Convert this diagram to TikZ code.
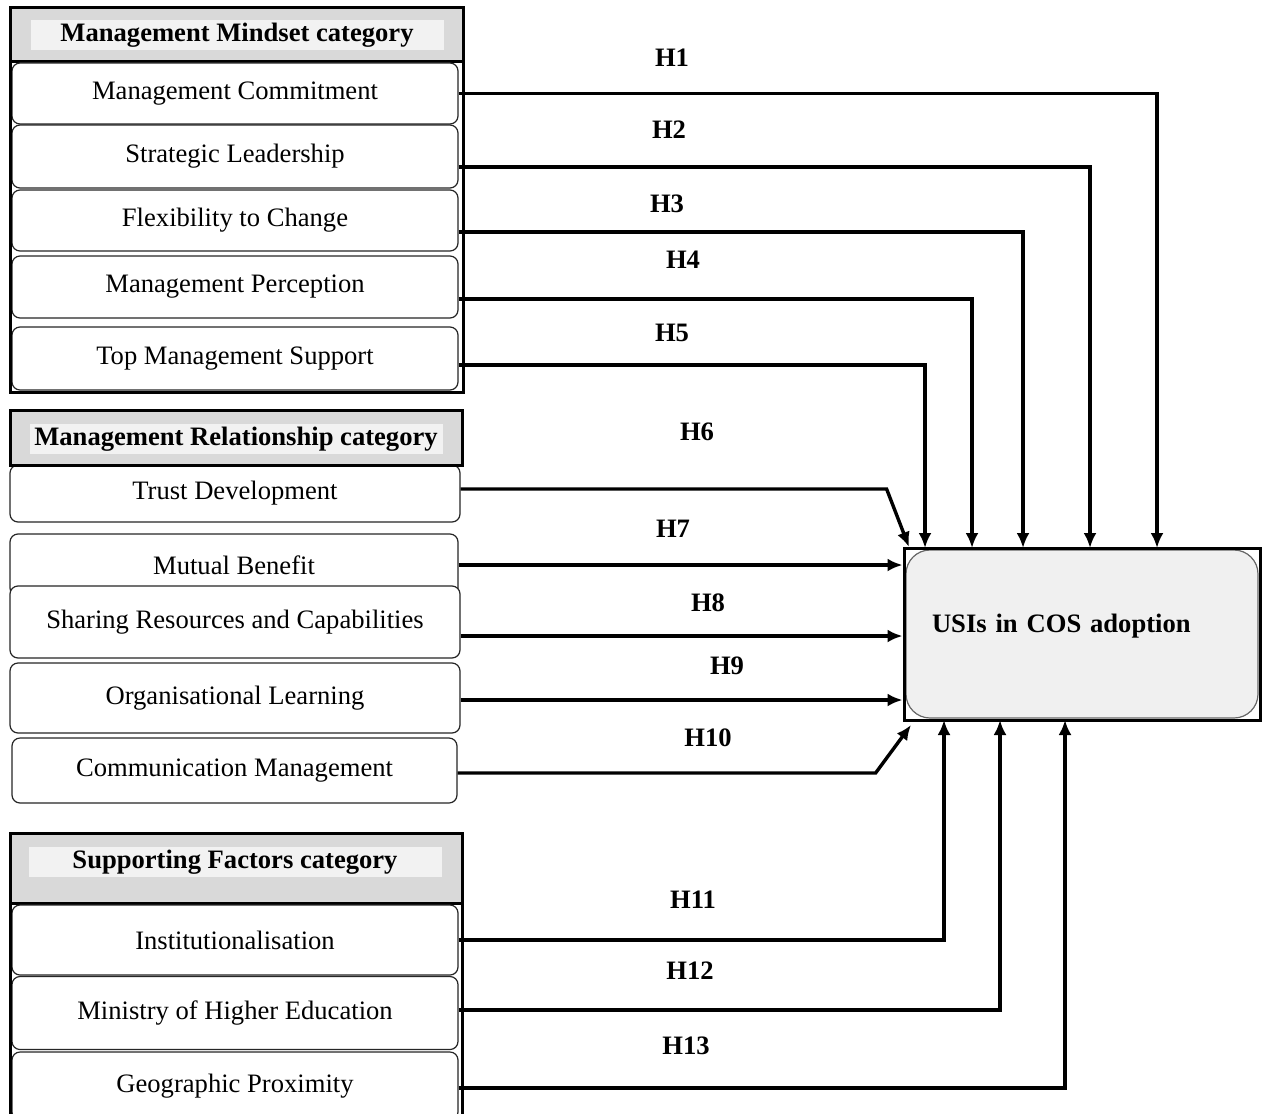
\documentclass[tikz,border=0pt]{standalone}
\usepackage{fontspec}
\setmainfont{Liberation Serif}
\usetikzlibrary{arrows.meta}
\definecolor{headgray}{HTML}{D9D9D9}
\definecolor{headlight}{HTML}{F2F2F2}
\definecolor{usifill}{HTML}{F0F0F0}
\begin{document}
\begin{tikzpicture}[x=0.5pt, y=-0.5pt, >={Latex[length=7.5pt,width=6.5pt]},
	every node/.style={font=\fontsize{13.3}{16}\selectfont},
	factor/.style={draw=black!85, line width=0.6pt, rounded corners=4pt, fill=white, minimum width=223pt, inner sep=0pt},
	cathead/.style={fill=headlight, minimum width=206.5pt, minimum height=15pt, inner sep=0pt, font=\fontsize{13.3}{16}\selectfont\bfseries},
	catframe/.style={draw, line width=1.5pt, fill=headgray},
	hlab/.style={font=\fontsize{13.3}{16}\selectfont\bfseries},
	hyp/.style={->, line width=1.7pt}]
	\useasboundingbox (0,0) rectangle (1267,1113);

	% management mindset
	\draw[catframe] (10,8) rectangle (463,62);
	\node[cathead] (mmhead) at (237,35) {Management Mindset category};
	\node[factor, minimum height=30.5pt] (mc) at (235,93.5) {Management Commitment};
	\node[factor, minimum height=31.5pt] (sl) at (235,156.5) {Strategic Leadership};
	\node[factor, minimum height=30.5pt] (fc) at (235,220.5) {Flexibility to Change};
	\node[factor, minimum height=31pt] (mp) at (235,287) {Management Perception};
	\node[factor, minimum height=31.5pt] (tms) at (235,358.5) {Top Management Support};
	\draw[line width=1.5pt] (10,8) rectangle (463,392);

	% management relationship
	\node[factor, minimum width=225pt, minimum height=28.5pt] (td) at (235,493.5) {Trust Development};
	\draw[catframe] (10,410) rectangle (462,465);
	\node[cathead] (mrhead) at (236,439) {Management Relationship category};
	\node[factor, minimum width=224pt, minimum height=31pt] (mb) at (234,565) {Mutual Benefit};
	\node[factor, minimum width=225pt, minimum height=36pt] (sr) at (235,622) {Sharing Resources and Capabilities};
	\node[factor, minimum width=225pt, minimum height=35pt] (ol) at (235,698) {Organisational Learning};
	\node[factor, minimum width=222.5pt, minimum height=32.5pt] (cm) at (234.5,770.5) {Communication Management};

	% supporting factors
	\draw[catframe] (10,833) rectangle (462,903);
	\node[cathead] (sfhead) at (235,862) {Supporting Factors category};
	\node[factor, minimum height=35pt] (inst) at (235,940) {Institutionalisation};
	\node[factor, minimum height=36.5pt] (mhe) at (235,1013) {Ministry of Higher Education};
	\node[factor, minimum height=34pt] (gp) at (235,1086) {Geographic Proximity};
	\draw[line width=1.5pt] (10,833) rectangle (462,1125);

	% outcome
	\draw[fill=usifill, draw=black!60, line width=0.6pt, rounded corners=12pt] (906,550) rectangle (1258,718);
	\node[draw, line width=1.5pt, minimum width=178pt, minimum height=86pt, text width=150pt, align=left,
		text height=9pt, text depth=11pt, font=\fontsize{13.3}{16}\selectfont\bfseries] (usi) at (1082,634) {USIs in COS adoption};

	\coordinate (t1) at (1157,548);
	\coordinate (t2) at (1090,548);
	\coordinate (t3) at (1023,548);
	\coordinate (t4) at (972,548);
	\coordinate (t5) at (925,548);
	\coordinate (t6) at (909,547);
	\coordinate (t10) at (911,725);
	\coordinate (b11) at (944,720);
	\coordinate (b12) at (1000,720);
	\coordinate (b13) at (1065,720);

	\draw[hyp] (mc.east) -| (t1);
	\draw[hyp] ([yshift=-5.25pt]sl.east) -| (t2);
	\draw[hyp] ([yshift=-5.75pt]fc.east) -| (t3);
	\draw[hyp] ([yshift=-6pt]mp.east) -| (t4);
	\draw[hyp] ([yshift=-3.25pt]tms.east) -| (t5);
	\draw[hyp] ([yshift=2.25pt]td.east) -- ++(213pt,0) -- (t6);
	\draw[hyp] (mb.east) -- (mb.east -| usi.west);
	\draw[hyp] ([yshift=-7pt]sr.east) -- ([yshift=-7pt]sr.east -| usi.west);
	\draw[hyp] ([yshift=-1pt]ol.east) -- ([yshift=-1pt]ol.east -| usi.west);
	\draw[hyp] ([yshift=-1.25pt]cm.east) -- ++(209pt,0) -- (t10);
	\draw[hyp] (inst.east) -| (b11);
	\draw[hyp] ([yshift=1.5pt]mhe.east) -| (b12);
	\draw[hyp] ([yshift=-1pt]gp.east) -| (b13);

	\node[hlab] (h1) at (672,58) {H1};
	\node[hlab] (h2) at (669,130) {H2};
	\node[hlab] (h3) at (667,204) {H3};
	\node[hlab] (h4) at (683,260) {H4};
	\node[hlab] (h5) at (672,333) {H5};
	\node[hlab] (h6) at (697,432) {H6};
	\node[hlab] (h7) at (673,529) {H7};
	\node[hlab] (h8) at (708,603) {H8};
	\node[hlab] (h9) at (727,666) {H9};
	\node[hlab] (h10) at (708,738) {H10};
	\node[hlab] (h11) at (693,900) {H11};
	\node[hlab] (h12) at (690,971) {H12};
	\node[hlab] (h13) at (686,1046) {H13};
\end{tikzpicture}
\end{document}
